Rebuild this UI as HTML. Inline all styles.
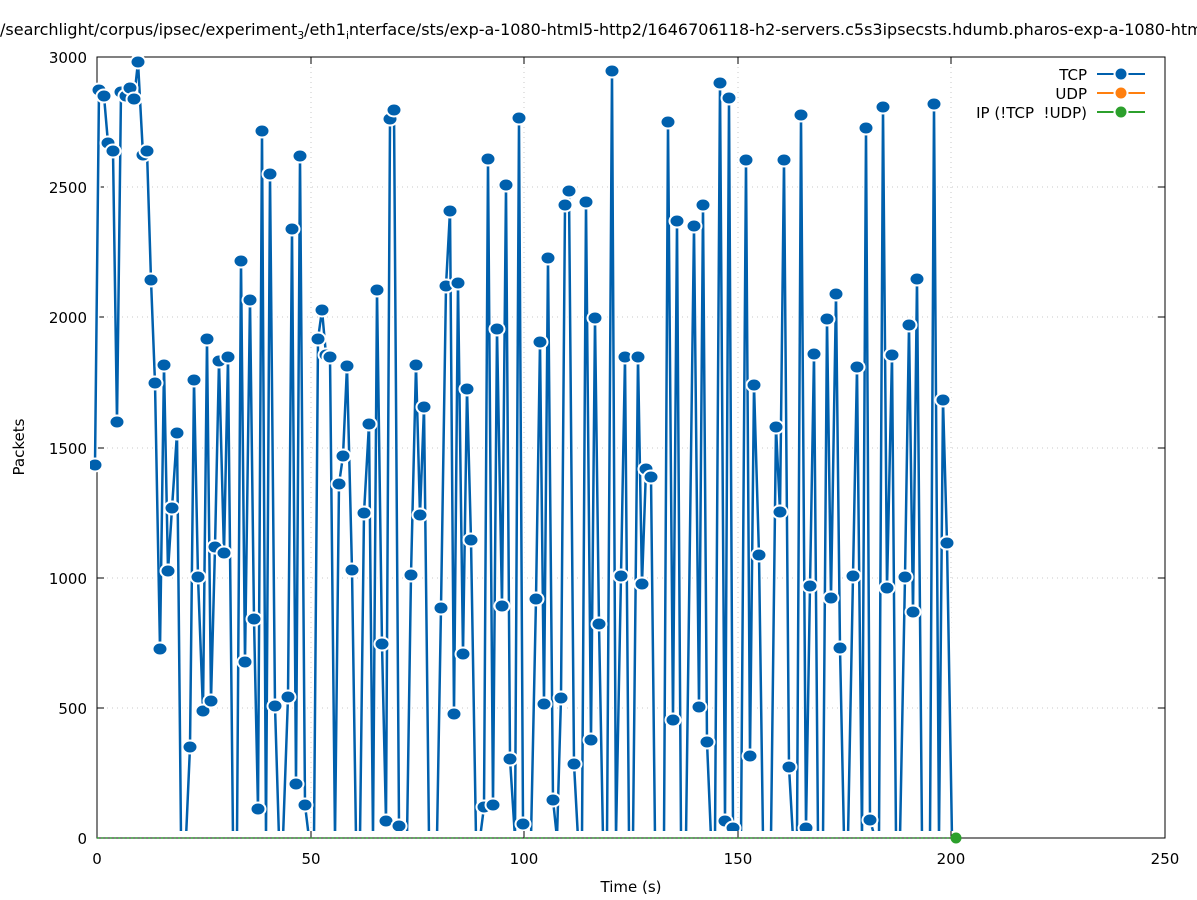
<!DOCTYPE html>
<html><head><meta charset="utf-8"><style>
body{margin:0;background:#fff;}
svg{display:block;font-family:"DejaVu Sans","Liberation Sans",sans-serif;}
</style></head><body>
<svg id="s" width="1197" height="900" xmlns="http://www.w3.org/2000/svg">
<rect width="1197" height="900" fill="#fff"/>
<text x="0" y="35" font-size="16" fill="#000" style="white-space:pre">/searchlight/corpus/ipsec/experiment<tspan font-size="10.5" dy="4">3</tspan><tspan dy="-4">/eth1</tspan><tspan font-size="10.5" dy="4">i</tspan><tspan dy="-4">nterface/sts/exp-a-1080-html5-http2/1646706118-h2-servers.c5s3ipsecsts.hdumb.pharos-exp-a-1080-html5-http2</tspan></text>
<g stroke="#c8c8c8" stroke-dasharray="1,4" stroke-width="1">
<line x1="311" y1="57" x2="311" y2="838"/><line x1="524" y1="57" x2="524" y2="838"/><line x1="738" y1="57" x2="738" y2="838"/><line x1="951" y1="57" x2="951" y2="838"/>
<line x1="97" y1="708" x2="1165" y2="708"/><line x1="97" y1="578" x2="1165" y2="578"/><line x1="97" y1="448" x2="1165" y2="448"/><line x1="97" y1="317" x2="1165" y2="317"/><line x1="97" y1="187" x2="1165" y2="187"/>
</g>
<rect x="97" y="57" width="1068" height="781" fill="none" stroke="#000" stroke-width="1"/>
<g stroke="#000" stroke-width="1">
<line x1="311" y1="838" x2="311" y2="831"/><line x1="524" y1="838" x2="524" y2="831"/><line x1="738" y1="838" x2="738" y2="831"/><line x1="951" y1="838" x2="951" y2="831"/>
<line x1="311" y1="57" x2="311" y2="64"/><line x1="524" y1="57" x2="524" y2="64"/><line x1="738" y1="57" x2="738" y2="64"/><line x1="951" y1="57" x2="951" y2="64"/>
<line x1="97" y1="708" x2="104" y2="708"/><line x1="97" y1="578" x2="104" y2="578"/><line x1="97" y1="448" x2="104" y2="448"/><line x1="97" y1="317" x2="104" y2="317"/><line x1="97" y1="187" x2="104" y2="187"/>
<line x1="1165" y1="708" x2="1158" y2="708"/><line x1="1165" y1="578" x2="1158" y2="578"/><line x1="1165" y1="448" x2="1158" y2="448"/><line x1="1165" y1="317" x2="1158" y2="317"/><line x1="1165" y1="187" x2="1158" y2="187"/>
</g>
<g font-size="15" fill="#000" text-anchor="end">
<text x="87" y="844">0</text><text x="87" y="714">500</text><text x="87" y="584">1000</text><text x="87" y="454">1500</text><text x="87" y="323">2000</text><text x="87" y="193">2500</text><text x="87" y="63">3000</text>
</g>
<g font-size="15" fill="#000" text-anchor="middle">
<text x="97" y="864">0</text><text x="311" y="864">50</text><text x="524" y="864">100</text><text x="738" y="864">150</text><text x="951" y="864">200</text><text x="1165" y="864">250</text>
<text x="631" y="892">Time (s)</text>
<text x="24" y="447" transform="rotate(-90 24 447)">Packets</text>
</g>
<g id="green" stroke="#2ca02c" stroke-width="1.5"></g>
<clipPath id="c"><rect x="90" y="50" width="1080" height="781"/></clipPath>
<g id="data" clip-path="url(#c)"></g>
<circle cx="956" cy="838" r="5.5" fill="#2ca02c"/>
<g font-size="15" fill="#000" text-anchor="end">
<text x="1087" y="80">TCP</text><text x="1087" y="99">UDP</text><text x="1087" y="118" xml:space="preserve" style="white-space:pre">IP (!TCP  !UDP)</text>
</g>
<line x1="1097" y1="74" x2="1145" y2="74" stroke="#0060ad" stroke-width="2"/><circle cx="1121" cy="74" r="7.5" fill="#fff"/><circle cx="1121" cy="74" r="5.5" fill="#0060ad"/>
<line x1="1097" y1="93" x2="1145" y2="93" stroke="#ff7f0e" stroke-width="2"/><circle cx="1121" cy="93" r="7.5" fill="#fff"/><circle cx="1121" cy="93" r="5.5" fill="#ff7f0e"/>
<line x1="1097" y1="112" x2="1145" y2="112" stroke="#2ca02c" stroke-width="2"/><circle cx="1121" cy="112" r="7.5" fill="#fff"/><circle cx="1121" cy="112" r="5.5" fill="#2ca02c"/>
</svg>
<script>
var P=[[95,465],[99,90],[104,96],[108,143],[113,151],[117,422],[121,92],[126,96],[130,88],[134,99],[138,62],[143,155],[147,151],[151,280],[155,383],[160,649],[164,365],[168,571],[172,508],[177,433],[181,838],[186,838],[190,747],[194,380],[198,577],[203,711],[207,339],[211,701],[215,547],[219,361],[224,553],[228,357],[233,838],[237,838],[241,261],[245,662],[250,300],[254,619],[258,809],[262,131],[266,838],[270,174],[275,706],[279,838],[283,838],[288,697],[292,229],[296,784],[300,156],[305,805],[309,838],[314,838],[318,339],[322,310],[326,355],[330,357],[335,838],[339,484],[343,456],[347,366],[352,570],[356,838],[360,838],[364,513],[369,424],[373,838],[377,290],[382,644],[386,821],[390,119],[394,110],[399,826],[403,838],[407,838],[411,575],[416,365],[420,515],[424,407],[429,838],[433,838],[437,838],[441,608],[446,286],[450,211],[454,714],[458,283],[463,654],[467,389],[471,540],[476,838],[480,838],[484,807],[488,159],[493,805],[497,329],[502,606],[506,185],[510,759],[515,838],[519,118],[523,824],[527,838],[531,838],[536,599],[540,342],[544,704],[548,258],[553,800],[557,838],[561,698],[565,205],[569,191],[574,764],[578,838],[582,838],[586,202],[591,740],[595,318],[599,624],[603,838],[607,838],[612,71],[616,838],[621,576],[625,357],[629,838],[633,838],[638,357],[642,584],[646,469],[651,477],[655,838],[659,838],[664,838],[668,122],[673,720],[677,221],[681,838],[686,838],[694,226],[699,707],[703,205],[707,742],[711,838],[715,838],[720,83],[725,821],[729,98],[733,828],[737,838],[741,838],[746,160],[750,756],[754,385],[759,555],[763,838],[767,838],[771,838],[776,427],[780,512],[784,160],[789,767],[793,838],[797,838],[801,115],[806,828],[810,586],[814,354],[818,838],[823,838],[827,319],[831,598],[836,294],[840,648],[844,838],[848,838],[853,576],[857,367],[862,838],[866,128],[870,820],[875,838],[879,838],[883,107],[887,588],[892,355],[896,838],[900,838],[905,577],[909,325],[913,612],[917,279],[922,838],[926,838],[930,838],[934,104],[939,838],[943,400],[947,543],[952,838]];
var NS="http://www.w3.org/2000/svg",g=document.getElementById("data");
var pts=P.map(function(p){return p.join(",")}).join(" ");
function el(n,a,parent){var e=document.createElementNS(NS,n);for(var k in a)e.setAttribute(k,a[k]);parent.appendChild(e);return e;}
el("polyline",{points:pts,fill:"none",stroke:"#fff","stroke-width":"5.5","stroke-linejoin":"round"},g);
el("polyline",{points:pts,fill:"none",stroke:"#0060ad","stroke-width":"2.5","stroke-linejoin":"round"},g);
P.forEach(function(p){if(p[1]<836){el("ellipse",{cx:p[0],cy:p[1],rx:8.5,ry:7.5,fill:"#fff"},g);el("ellipse",{cx:p[0],cy:p[1],rx:6.5,ry:5.5,fill:"#0060ad"},g);}});
var gr=document.getElementById("green");
for(var x=97;x<956;x+=4.27){el("line",{x1:x,y1:838,x2:x+2,y2:838},gr);}
</script>
</body></html>
